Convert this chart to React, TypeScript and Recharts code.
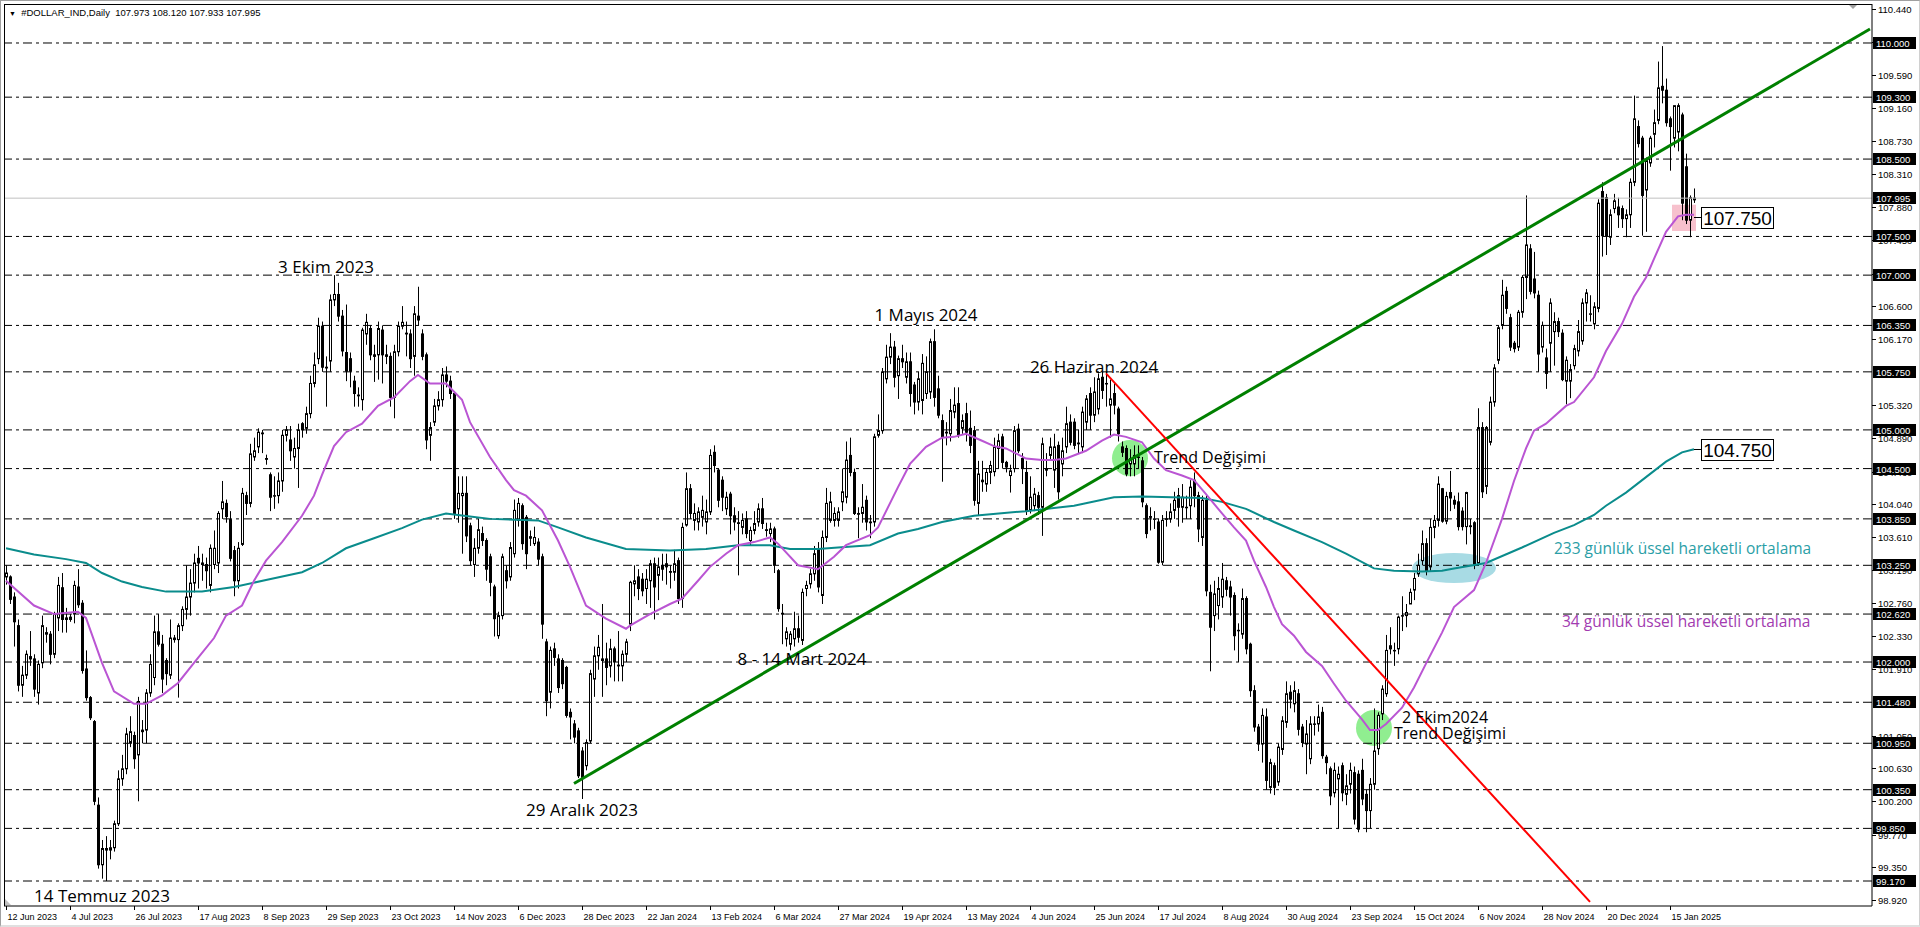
import React from 'react';
import { ComposedChart, Bar, Line, XAxis, YAxis, ReferenceLine, ReferenceDot, ReferenceArea } from 'recharts';

const opens = [
103.10,103.10,102.84,102.47,101.70,101.83,102.07,102.04,101.60,101.99,
102.36,102.36,102.10,102.57,102.96,102.57,102.55,102.62,102.97,102.76,
101.91,101.54,101.23,100.15,99.38,99.59,99.57,99.60,99.91,100.49,
100.62,100.96,101.05,100.80,101.10,101.12,101.60,101.80,102.39,102.23,
102.02,101.83,102.31,102.29,102.47,102.68,102.84,103.02,103.34,103.28,
103.26,102.99,103.26,103.28,103.98,104.05,103.84,103.44,103.05,103.52,
104.15,104.05,104.65,104.78,104.95,104.63,104.42,104.15,104.15,104.34,
104.93,104.87,104.65,104.76,105.08,105.02,105.21,105.60,105.92,106.34,
105.81,105.89,106.68,106.75,106.47,106.00,105.92,105.63,105.45,105.39,
106.24,106.31,105.97,105.97,106.29,105.97,105.95,105.42,106.01,106.34,
106.25,106.24,105.95,106.47,106.24,105.97,104.93,105.10,105.31,105.39,
105.71,105.63,105.47,103.98,104.15,104.18,103.76,103.26,103.47,103.66,
103.57,103.36,102.97,102.34,102.60,103.18,103.10,103.40,103.83,104.02,
103.87,103.62,103.53,103.55,103.36,102.26,101.61,102.17,102.04,102.02,
101.93,101.35,101.20,101.11,100.85,100.66,100.98,101.78,102.08,102.04,
102.04,101.95,102.17,101.96,101.95,102.10,102.49,103.01,103.10,103.07,
102.95,103.05,103.27,103.12,103.25,103.27,103.17,103.16,103.31,102.82,
103.77,104.24,103.83,103.81,103.87,103.81,103.94,104.71,104.48,104.35,
103.98,104.17,103.89,103.80,103.74,103.85,103.57,103.70,103.81,103.98,
103.71,103.66,103.72,103.18,102.63,102.30,102.23,102.30,102.43,102.28,
102.95,103.01,103.14,103.46,102.86,103.61,103.83,103.83,103.83,104.07,
104.13,104.67,104.45,103.92,103.92,104.09,103.81,103.81,104.93,104.99,
105.66,105.94,106.07,105.70,105.92,105.68,105.88,105.58,105.36,105.38,
105.47,105.49,106.14,105.53,105.12,104.97,104.95,105.23,105.34,105.02,
105.21,105.02,104.99,104.05,104.33,104.30,104.45,104.46,104.76,104.91,
104.58,104.41,104.50,105.01,104.63,104.45,103.96,104.02,104.15,104.00,
104.50,104.67,104.48,104.80,104.56,104.78,105.10,105.10,104.83,104.78,
105.10,105.47,105.19,105.27,105.68,105.60,105.32,105.47,105.27,104.78,
104.76,104.56,104.56,104.65,104.60,104.02,103.88,103.85,103.81,103.29,
103.85,103.85,103.96,104.15,104.00,104.00,104.02,104.35,104.15,103.61,
104.09,102.90,102.60,102.73,102.84,103.05,102.97,102.86,102.41,102.36,
102.82,102.23,101.63,101.16,100.94,101.29,100.38,100.66,100.45,100.87,
101.22,101.61,101.46,101.59,101.16,100.94,100.75,101.20,101.20,101.35,
100.77,100.62,100.31,100.49,100.66,100.29,100.42,100.57,100.55,100.60,
100.29,100.08,100.42,100.88,101.33,101.59,102.21,102.15,102.17,102.60,
102.60,102.75,102.93,103.14,103.31,103.53,103.23,103.74,103.83,104.24,
103.82,104.19,104.09,104.07,103.95,103.75,103.76,103.80,103.28,105.03,
104.27,104.84,105.36,105.90,106.35,106.79,106.45,106.12,106.07,106.52,
106.97,107.34,106.95,106.74,106.07,105.93,106.12,106.27,106.40,106.25,
105.63,105.63,105.83,106.02,106.15,106.64,106.50,106.37,106.57,108.08,
108.00,107.49,107.86,107.88,107.86,107.73,107.78,108.20,108.92,108.77,
108.10,108.45,108.82,109.00,109.44,109.39,109.02,108.77,108.85,109.07,
108.40,107.71,107.973];

const highs = [
103.25,103.12,102.90,102.55,101.95,102.15,102.40,102.10,102.02,102.60,
102.45,102.40,102.65,103.10,103.15,102.70,102.62,103.05,103.20,102.80,
102.15,101.56,101.25,100.25,99.70,99.75,99.70,99.95,100.60,100.80,
101.15,101.30,101.10,101.55,101.25,101.65,102.10,102.60,102.62,102.35,
102.05,102.55,102.35,102.50,102.72,103.25,103.20,103.40,103.50,103.40,
103.35,103.52,103.70,103.95,104.34,104.10,103.95,103.50,103.55,104.25,
104.20,104.82,104.90,105.02,105.00,104.68,104.45,104.40,104.45,105.00,
105.05,105.05,104.90,105.08,105.10,105.30,105.70,106.00,106.45,106.40,
105.95,106.75,107.00,106.90,106.55,106.62,106.00,105.70,105.55,106.32,
106.50,106.35,106.10,106.40,106.35,106.10,106.00,106.10,106.40,106.60,
106.40,106.30,106.60,106.85,106.30,106.00,105.10,105.40,105.50,105.80,
105.82,105.70,105.50,104.40,104.40,104.40,103.80,103.60,103.85,103.75,
103.60,103.40,103.00,102.65,103.40,103.25,103.55,104.10,104.12,104.05,
103.90,103.70,103.75,103.60,103.40,102.30,102.20,102.25,102.10,102.05,
101.95,101.40,101.25,101.15,100.90,101.00,101.90,102.20,102.35,102.75,
102.25,102.30,102.20,102.40,102.15,102.30,103.05,103.25,103.20,103.15,
103.20,103.32,103.35,103.35,103.40,103.40,103.25,103.45,103.35,103.80,
104.45,104.30,104.05,104.00,104.15,104.10,104.75,104.80,104.50,104.40,
104.20,104.20,104.00,103.95,103.92,103.95,103.75,103.95,104.05,104.12,
103.80,103.80,103.75,103.20,102.75,102.45,102.40,102.65,102.60,102.95,
103.05,103.20,103.50,103.55,103.70,104.25,104.20,104.00,104.00,104.50,
104.85,104.90,104.50,104.00,104.30,104.15,103.90,104.95,105.20,105.80,
106.10,106.25,106.15,105.96,106.10,106.00,106.00,105.62,105.75,105.98,
105.95,106.18,106.30,105.70,105.20,105.10,105.40,105.55,105.55,105.20,
105.35,105.25,105.05,104.60,104.60,104.50,104.60,104.90,104.95,104.95,
104.60,104.55,105.05,105.08,104.70,104.60,104.40,104.25,104.20,104.90,
104.70,104.90,104.95,104.85,104.90,105.30,105.20,105.15,105.00,105.30,
105.45,105.55,105.68,105.73,105.75,105.75,105.65,105.60,105.30,104.85,
104.80,104.75,104.80,104.80,104.65,104.05,104.00,103.95,103.85,103.90,
103.95,104.05,104.20,104.25,104.30,104.15,104.35,104.45,104.20,104.15,
104.15,103.00,103.05,103.10,103.28,103.10,103.05,102.90,102.50,102.95,
102.85,102.25,101.70,101.20,101.40,101.40,100.75,100.70,100.95,101.30,
101.75,101.70,101.75,101.65,101.20,101.25,101.30,101.30,101.45,101.42,
100.80,100.65,100.70,100.65,100.70,100.55,100.70,100.65,100.60,100.75,
100.35,100.50,101.40,101.35,101.70,102.35,102.45,102.25,102.60,102.85,
102.75,102.95,103.15,103.40,103.70,103.60,103.85,103.90,104.40,104.25,
104.20,104.47,104.15,104.19,104.00,104.20,103.85,103.82,105.28,105.10,
105.05,105.43,105.85,106.35,106.94,106.85,106.50,106.15,106.55,107.00,
108.03,107.40,107.30,106.80,106.40,106.05,106.70,106.52,106.45,106.30,
105.95,105.85,106.10,106.42,106.70,106.82,106.74,106.65,107.98,108.20,
108.05,107.85,108.05,108.00,107.90,107.85,108.25,109.32,109.00,108.80,
108.52,108.80,109.14,109.76,109.96,109.54,109.05,109.19,109.22,109.10,
108.57,108.03,108.12];

const lows = [
103.00,102.75,102.20,101.62,101.55,101.78,101.95,101.55,101.45,101.92,
102.25,101.97,102.05,102.40,102.38,102.38,102.52,102.50,102.70,101.85,
101.50,101.25,100.15,99.33,99.20,99.17,99.45,99.55,99.88,100.40,
100.55,100.90,100.62,100.20,100.95,100.95,101.55,101.70,102.20,101.60,
101.70,101.78,102.25,101.54,102.40,102.55,102.60,102.90,102.95,103.05,
102.95,102.90,103.20,103.15,103.85,103.80,103.30,102.85,102.95,103.50,
103.90,104.00,104.60,104.70,104.70,104.55,103.95,103.98,104.05,104.20,
104.85,104.60,104.50,104.25,104.90,104.95,105.15,105.55,105.85,105.75,
105.30,105.75,106.60,106.40,105.95,105.63,105.55,105.30,105.30,105.25,
106.10,105.90,105.62,105.65,105.60,105.85,105.30,105.15,105.95,106.30,
105.95,105.80,105.70,106.35,105.90,104.75,104.60,105.05,105.25,105.30,
105.55,105.40,103.85,103.80,103.40,103.55,103.25,103.10,103.40,103.50,
103.05,102.85,102.33,102.30,102.55,102.95,103.05,103.35,103.75,103.45,
103.20,103.50,103.50,103.25,102.30,101.30,101.40,101.95,101.60,101.65,
101.28,101.00,100.95,100.50,100.23,100.60,100.95,101.55,101.90,101.55,
101.70,101.80,101.75,101.75,101.75,102.00,102.40,102.85,102.80,102.85,
102.75,102.70,102.55,102.80,103.05,103.00,102.95,103.05,102.75,102.70,
103.75,103.85,103.70,103.70,103.75,103.65,103.90,104.45,104.00,103.95,
103.90,103.65,103.70,103.12,103.65,103.60,103.50,103.65,103.75,103.72,
103.62,103.55,103.15,102.65,102.23,102.20,102.15,102.20,102.25,102.22,
102.85,102.95,103.05,102.90,102.75,103.55,103.80,103.75,103.75,103.95,
104.05,104.40,103.90,103.60,103.80,103.70,103.60,103.75,104.90,104.95,
105.60,105.85,105.55,105.40,105.80,105.60,105.30,105.20,105.25,105.20,
105.40,105.40,105.30,105.15,104.33,104.80,104.85,105.15,104.90,104.95,
104.85,104.70,104.02,103.90,104.20,104.20,104.30,104.40,104.50,104.50,
104.45,104.19,104.45,104.70,104.30,103.90,103.92,103.95,103.90,103.63,
104.40,104.60,104.25,104.10,104.40,104.70,104.80,104.75,104.70,104.70,
105.00,105.00,105.10,105.20,105.40,105.30,104.90,105.20,104.85,104.65,
104.40,104.40,104.40,104.50,104.00,103.60,103.70,103.72,103.27,103.25,
103.75,103.80,103.85,103.75,103.80,103.85,103.85,104.00,103.55,103.50,
102.85,101.88,102.40,102.55,102.70,102.85,102.60,102.15,102.00,102.30,
102.10,101.55,101.10,100.85,100.70,100.35,100.30,100.28,100.40,100.80,
101.15,101.40,101.35,101.05,100.90,100.55,100.68,101.05,101.10,100.75,
100.55,100.15,100.25,99.85,100.20,100.15,100.30,99.90,99.80,100.15,
99.80,99.85,100.35,100.80,101.25,101.55,102.10,101.95,102.10,102.40,
102.45,102.75,102.80,103.10,103.25,103.12,103.18,103.60,103.75,103.80,
103.78,103.95,103.98,103.70,103.70,103.52,103.65,103.20,103.25,104.12,
104.17,104.80,105.30,105.85,106.30,106.50,106.02,106.00,106.02,106.45,
106.69,106.75,106.70,105.75,106.00,105.53,105.75,105.83,106.20,105.63,
105.33,105.41,105.78,105.95,106.10,106.40,106.40,106.30,106.52,107.24,
107.26,107.39,107.80,107.61,107.61,107.49,107.61,108.15,108.65,107.51,
107.56,108.40,108.65,108.95,109.22,108.92,108.35,108.65,108.60,107.71,
107.66,107.49,107.933];

const closes = [
103.15,102.81,102.52,101.70,101.83,102.10,102.04,101.65,101.97,102.47,
102.38,102.10,102.62,102.99,102.55,102.55,102.58,102.99,102.74,101.89,
101.54,101.28,100.20,99.38,99.59,99.57,99.60,99.91,100.49,100.62,
101.07,101.10,100.75,101.49,101.12,101.60,101.97,102.39,102.23,101.78,
101.85,102.31,102.29,102.47,102.68,102.84,103.02,103.28,103.28,103.26,
103.18,103.47,103.47,103.92,104.07,103.88,103.34,103.05,103.47,104.18,
104.05,104.69,104.73,104.97,104.96,104.62,104.13,104.15,104.34,104.93,
105.00,104.73,104.76,105.00,105.00,105.21,105.60,105.84,106.34,105.81,
105.80,106.68,106.75,106.47,106.02,105.76,105.76,105.47,105.44,106.29,
106.39,105.97,105.95,106.31,105.97,105.95,105.42,106.01,106.34,106.39,
106.24,105.92,106.50,106.42,105.95,104.87,105.03,105.31,105.39,105.71,
105.63,105.47,103.92,104.18,104.18,103.63,103.31,103.47,103.71,103.57,
103.20,103.03,102.56,102.60,103.36,103.05,103.48,103.96,104.05,103.53,
103.40,103.60,103.61,103.33,102.49,101.50,102.15,102.06,101.67,101.72,
101.31,101.29,101.03,100.53,100.51,100.96,101.85,102.08,102.19,102.02,
101.93,102.17,102.00,101.95,102.10,102.26,103.03,103.05,102.95,102.92,
103.07,103.27,102.97,103.23,103.20,103.23,103.16,103.27,102.82,103.74,
104.24,103.92,103.92,103.94,103.96,103.94,104.67,104.54,104.09,104.13,
104.13,103.89,103.81,103.79,103.83,103.66,103.70,103.79,103.98,103.79,
103.70,103.72,103.25,102.69,102.62,102.39,102.36,102.43,102.32,102.90,
102.99,103.14,103.40,102.97,103.61,104.05,104.07,103.92,103.94,104.20,
104.61,104.45,103.92,103.91,104.00,103.81,103.80,104.91,104.99,105.75,
105.94,106.07,105.68,105.92,105.88,105.88,105.47,105.36,105.66,105.86,
105.75,106.14,105.42,105.19,104.91,104.96,105.25,105.32,104.93,105.12,
104.97,104.80,104.09,104.43,104.35,104.45,104.54,104.78,104.86,104.58,
104.52,104.47,104.99,104.73,104.50,103.96,104.13,104.17,104.00,104.82,
104.48,104.78,104.78,104.20,104.73,105.08,104.84,104.80,104.82,105.23,
105.40,105.19,105.49,105.66,105.51,105.60,105.40,105.32,104.95,104.71,
104.43,104.63,104.67,104.65,104.07,103.66,103.87,103.85,103.29,103.83,
103.85,103.94,104.09,104.00,104.13,104.00,104.26,104.15,103.72,104.09,
102.92,102.45,102.88,102.95,103.07,102.94,102.84,102.34,102.41,102.82,
102.17,101.63,101.16,100.94,101.31,100.47,100.70,100.38,100.90,101.24,
101.59,101.52,101.63,101.13,100.96,101.07,101.20,101.20,101.29,100.79,
100.70,100.27,100.60,100.55,100.31,100.40,100.60,99.97,99.84,100.23,
100.08,100.42,100.85,101.31,101.65,102.15,102.17,102.15,102.58,102.60,
102.64,102.90,103.08,103.25,103.53,103.18,103.74,103.83,104.30,103.82,
104.14,104.12,104.04,103.75,103.75,104.19,103.75,103.25,105.03,104.20,
105.03,105.36,105.80,106.32,106.74,106.57,106.07,106.05,106.52,106.97,
107.39,106.79,106.77,105.98,106.35,105.73,106.64,106.40,106.27,105.65,
105.90,105.78,106.05,106.27,106.64,106.77,106.50,106.59,107.93,107.51,
107.51,107.78,107.96,107.78,107.73,107.78,108.20,109.02,108.70,108.03,
108.48,108.77,108.97,109.42,109.39,108.97,108.92,109.19,109.19,107.93,
107.71,108.00,107.995];

const ema34Bars = [0,7,12,18,20,24,27,32,35,39,43,47,52,55,59,62,65,69,74,77,79,82,85,89,93,97,101,103,106,110,114,116,121,125,127,130,134,138,141,145,150,155,156,161,166,169,173,176,180,183,187,191,193,198,203,207,210,216,218,223,226,230,234,237,240,244,247,250,255,259,262,265,270,274,277,280,284,287,290,294,297,300,304,307,310,312,315,317,319,322,325,329,332,335,339,341,343,345,349,352,355,359,362,367,370,374,377,380,382,385,390,392,397,400,404,407,410,412,415,418,420,422];
const ema34Values = [103.05,102.73,102.62,102.65,102.57,101.99,101.62,101.46,101.46,101.57,101.73,101.99,102.31,102.60,102.73,103.05,103.31,103.55,103.89,104.15,104.42,104.79,104.97,105.08,105.31,105.42,105.63,105.71,105.60,105.60,105.39,105.10,104.65,104.35,104.22,104.15,103.96,103.57,103.23,102.73,102.56,102.43,102.47,102.62,102.75,102.82,103.05,103.23,103.40,103.51,103.55,103.61,103.53,103.25,103.20,103.36,103.51,103.64,103.74,104.26,104.56,104.78,104.90,104.91,104.95,104.86,104.79,104.76,104.63,104.61,104.61,104.63,104.73,104.86,104.94,104.91,104.84,104.63,104.48,104.41,104.35,104.17,103.92,103.74,103.57,103.31,102.97,102.71,102.49,102.34,102.13,101.95,101.72,101.50,101.26,101.12,101.12,101.20,101.41,101.67,101.98,102.38,102.71,102.93,103.28,103.85,104.34,104.76,104.99,105.08,105.31,105.36,105.68,106.02,106.37,106.72,106.97,107.21,107.56,107.76,107.78,107.78];

const ema233Bars = [0,7,15,20,24,29,34,40,49,57,65,74,79,85,92,99,104,110,116,121,133,138,145,155,166,175,183,191,196,203,208,216,223,228,234,242,255,267,277,284,299,304,310,317,322,329,335,342,347,354,359,362,370,379,387,392,397,400,405,410,415,419,422];
const ema233Values = [103.47,103.39,103.33,103.28,103.15,103.04,102.97,102.91,102.91,102.97,103.06,103.16,103.28,103.47,103.60,103.73,103.84,103.92,103.88,103.85,103.83,103.74,103.61,103.46,103.44,103.46,103.51,103.51,103.46,103.46,103.48,103.51,103.66,103.72,103.81,103.89,103.95,104.02,104.13,104.14,104.12,104.07,103.98,103.81,103.70,103.55,103.40,103.21,103.18,103.17,103.18,103.21,103.28,103.48,103.67,103.77,103.90,104.02,104.19,104.39,104.59,104.71,104.75];

const greenTrendBars = [142, 466];
const greenTrendValues = [100.43, 110.18];
const redTrendBars = [275, 396];
const redTrendValues = [105.73, 98.9];

const xTickBars = [0,16,32,48,64,80,96,112,128,144,160,176,192,208,224,240,256,272,288,304,320,336,352,368,384,400,416];
const xTickLabels = ['12 Jun 2023','4 Jul 2023','26 Jul 2023','17 Aug 2023','8 Sep 2023','29 Sep 2023','23 Oct 2023','14 Nov 2023','6 Dec 2023','28 Dec 2023','22 Jan 2024','13 Feb 2024','6 Mar 2024','27 Mar 2024','19 Apr 2024','13 May 2024','4 Jun 2024','25 Jun 2024','17 Jul 2024','8 Aug 2024','30 Aug 2024','23 Sep 2024','15 Oct 2024','6 Nov 2024','28 Nov 2024','20 Dec 2024','15 Jan 2025'];

const priceTicks = [110.44,110.01,109.59,109.16,108.73,108.31,107.88,107.45,107.02,106.60,106.17,105.75,105.32,104.89,104.46,104.04,103.61,103.19,102.76,102.33,101.91,101.48,101.05,100.63,100.20,99.77,99.35,98.92];
const levelPrices = [110.0,109.3,108.5,107.5,107.0,106.35,105.75,105.0,104.5,103.85,103.25,102.62,102.0,101.48,100.95,100.35,99.85,99.17];
const currentPrice = 107.995;

const annotationTexts = ['3 Ekim 2023','1 Mayıs 2024','26 Haziran 2024','Trend Değişimi','8 - 14 Mart 2024','29 Aralık 2023','14 Temmuz 2023','2 Ekim2024','Trend Değişimi','233 günlük üssel hareketli ortalama','34 günlük üssel hareketli ortalama'];
const annotationBars = [80,230,272,287,199,144,24,349,347,387,389];
const annotationPrices = [107.10,106.485,105.81,104.65,102.04,100.09,98.98,101.28,101.08,103.47,102.52];

const priceBoxLabels = ['107.750','104.750'];
const priceBoxBars = [422,422];
const priceBoxValues = [107.75,104.75];

const TOTAL_SLOTS = 467;
const Y_MIN = 98.847;
const Y_MAX = 110.504;

const data: any[] = [];
for (let i = 0; i < TOTAL_SLOTS; i++) {
  const row: any = { i };
  if (i < opens.length) {
    row.o = opens[i]; row.h = highs[i]; row.l = lows[i]; row.c = closes[i];
    row.range = [lows[i], highs[i]];
  }
  data.push(row);
}
ema34Bars.forEach((b, k) => { data[b].ema34 = ema34Values[k]; });
ema233Bars.forEach((b, k) => { data[b].ema233 = ema233Values[k]; });
greenTrendBars.forEach((b, k) => { data[b].green = greenTrendValues[k]; });
redTrendBars.forEach((b, k) => { data[b].red = redTrendValues[k]; });

const AXIS_FONT = '"Liberation Sans", Arial, sans-serif';
const NOTE_FONT = '"Open Sans", "Noto Sans", sans-serif';

const Candle = (props: any) => {
  const { x, y, width, height, payload } = props;
  if (!payload || payload.o === undefined || x == null) return null;
  const top = Math.min(y, y + height);
  const bot = Math.max(y, y + height);
  const span = payload.h - payload.l;
  const py = (v: number) => (span > 0 ? top + ((payload.h - v) / span) * (bot - top) : top);
  const cx = Math.round(x + width / 2) + 0.5;
  const yo = py(payload.o);
  const yc = py(payload.c);
  const bull = payload.c >= payload.o;
  const bt = Math.min(yo, yc);
  const bb = Math.max(yo, yc);
  return (
    <g>
      <line x1={cx} x2={cx} y1={top} y2={bot} stroke="#000" strokeWidth={1} />
      <rect x={cx - 1} y={bt} width={2} height={Math.max(bb - bt, 0.5)} fill={bull ? '#fff' : '#000'} stroke="#000" strokeWidth={1} />
    </g>
  );
};

const XTick = (props: any) => {
  const { x, y, payload } = props;
  const k = xTickBars.indexOf(payload.value);
  if (k < 0) return null;
  const px = Math.round(x) + 0.5;
  return (
    <g>
      <line x1={px} x2={px} y1={y} y2={y + 4} stroke="#000" strokeWidth={1} />
      <text x={px + 1} y={y + 14} fontSize={9} fontFamily={AXIS_FONT} fill="#000">{xTickLabels[k]}</text>
    </g>
  );
};

const YTick = (props: any) => {
  const { x, y, payload } = props;
  const v = payload.value;
  const isLevel = levelPrices.includes(v) || v === currentPrice;
  const py = Math.round(y) + 0.5;
  if (isLevel) {
    return (
      <g>
        <rect x={x + 1} y={py - 6.5} width={43} height={12} fill="#000" />
        <text x={x + 4} y={py + 3.5} fontSize={9.5} fontFamily={AXIS_FONT} fill="#fff">{v.toFixed(3)}</text>
      </g>
    );
  }
  return (
    <g>
      <line x1={x} x2={x + 4} y1={py} y2={py} stroke="#000" strokeWidth={1} />
      <text x={x + 6} y={py + 3.5} fontSize={9.5} fontFamily={AXIS_FONT} fill="#000">{v.toFixed(3)}</text>
    </g>
  );
};

const noteColors = ['#000','#000','#000','#000','#000','#000','#000','#000','#000','#2a9ea6','#a23bb0'];
const noteAnchors = ['middle','middle','middle','start','middle','middle','middle','start','start','start','start'];
const noteSizes = [17,17,17,16,17,17,17,16,16,15.5,15.5];

export default function App() {
  const yTicks = [...priceTicks, ...levelPrices, currentPrice];
  return (
    <div style={{ position: 'fixed', left: 0, top: 0, width: 1920, height: 927, background: '#fff', overflow: 'hidden' }}>
      <ComposedChart width={1920} height={927} data={data} margin={{ top: 4, right: 0, bottom: 0, left: 4 }}>
        <XAxis dataKey="i" type="category" ticks={xTickBars} interval={0} tick={<XTick />} tickLine={false} tickSize={0} tickMargin={0} axisLine={{ stroke: '#000' }} height={21} />
        <YAxis orientation="right" type="number" domain={[Y_MIN, Y_MAX]} allowDataOverflow ticks={yTicks} interval={0} tick={<YTick />} tickLine={false} tickSize={0} tickMargin={0} axisLine={{ stroke: '#000' }} width={48} />
        {levelPrices.map((lv) => (
          <ReferenceLine key={'lv' + lv} y={lv} stroke="#000" strokeWidth={1} strokeDasharray="9 4 3 4" />
        ))}
        <ReferenceLine y={currentPrice} stroke="#c0c0c0" strokeWidth={1} />
        <ReferenceArea x1={417} x2={422} y1={107.57} y2={107.91} fill="#f7c1cd" fillOpacity={1} stroke="none" />
        <ReferenceArea x1={277} x2={285} y1={104.40} y2={104.87} stroke="none"
          shape={(p: any) => <ellipse cx={p.x + p.width / 2} cy={p.y + p.height / 2} rx={p.width / 2} ry={p.height / 2} fill="#90ee90" />} />
        <ReferenceArea x1={338} x2={346} y1={100.915} y2={101.38} stroke="none"
          shape={(p: any) => <ellipse cx={p.x + p.width / 2} cy={p.y + p.height / 2} rx={p.width / 2} ry={p.height / 2} fill="#90ee90" />} />
        <ReferenceArea x1={352} x2={372} y1={103.02} y2={103.41} stroke="none"
          shape={(p: any) => <ellipse cx={p.x + p.width / 2} cy={p.y + p.height / 2} rx={p.width / 2} ry={p.height / 2} fill="#a8dbe4" />} />
        <Bar dataKey="range" shape={<Candle />} isAnimationActive={false} />
        <Line dataKey="ema233" stroke="#0a8c8c" strokeWidth={2} dot={false} connectNulls isAnimationActive={false} />
        <Line dataKey="ema34" stroke="#ba55d3" strokeWidth={2} dot={false} connectNulls isAnimationActive={false} />
        <Line dataKey="green" stroke="#008000" strokeWidth={3} dot={false} connectNulls isAnimationActive={false} />
        <Line dataKey="red" stroke="#ff0000" strokeWidth={2} dot={false} connectNulls isAnimationActive={false} />
        {annotationTexts.map((t, k) => (
          <ReferenceDot key={'n' + k} x={annotationBars[k]} y={annotationPrices[k]} r={0} ifOverflow="visible"
            shape={(p: any) => (
              <text x={p.cx} y={p.cy} dy="0.35em" textAnchor={noteAnchors[k] as any} fontSize={noteSizes[k]} fontFamily={NOTE_FONT} fill={noteColors[k]}>{t}</text>
            )} />
        ))}
        {priceBoxLabels.map((t, k) => (
          <ReferenceDot key={'b' + k} x={priceBoxBars[k]} y={priceBoxValues[k]} r={0} ifOverflow="visible"
            shape={(p: any) => (
              <g>
                <line x1={p.cx} x2={p.cx + 7} y1={Math.round(p.cy) + 0.5} y2={Math.round(p.cy) + 0.5} stroke="#000" strokeWidth={1} />
                <rect x={Math.round(p.cx) + 7.5} y={Math.round(p.cy) - 9.5} width={72} height={21} fill="#fff" stroke="#000" strokeWidth={1} />
                <text x={p.cx + 43.5} y={p.cy + 7.5} textAnchor="middle" fontSize={19} fontFamily={AXIS_FONT} fill="#000">{t}</text>
              </g>
            )} />
        ))}
      </ComposedChart>
      <div style={{ position: 'absolute', left: 4, top: 4, width: 1867, height: 901, borderLeft: '1px solid #000', borderTop: '1px solid #000', pointerEvents: 'none' }} />
      <div style={{ position: 'absolute', left: 9, top: 7, fontFamily: AXIS_FONT, fontSize: 9.5, color: '#000', whiteSpace: 'pre', lineHeight: '12px' }}>
        <span style={{ fontSize: 7 }}>▼</span>{'  #DOLLAR_IND,Daily  107.973 108.120 107.933 107.995'}
      </div>
      <svg width={1920} height={927} style={{ position: 'absolute', left: 0, top: 0, pointerEvents: 'none' }}>
        <polygon points="1849,5 1857,5 1853,9" fill="#a0a0a0" />
        <polygon points="5,899 5,905 11,905" fill="#c0c0c0" />
      </svg>
      <div style={{ position: 'absolute', left: 0, top: 0, width: 1918, height: 924, borderLeft: '1px solid #a0a0a0', borderTop: '1px solid #a0a0a0', borderRight: '2px solid #d0d0d0', borderBottom: '2px solid #e0e0e0', pointerEvents: 'none' }} />
    </div>
  );
}
